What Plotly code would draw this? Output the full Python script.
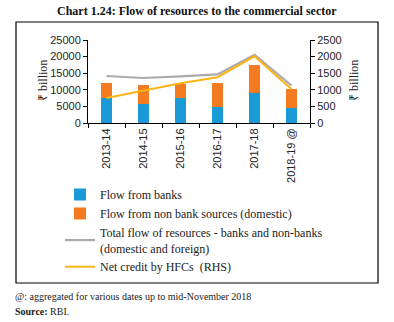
import plotly.graph_objects as go

categories = ["2013-14", "2014-15", "2015-16", "2016-17", "2017-18", "2018-19 @"]
flow_banks = [7600, 5750, 7600, 4900, 9100, 4550]
flow_nonbank = [4400, 5650, 4200, 7100, 8300, 5650]
total_flow = [14150, 13550, 14050, 14650, 20550, 11250]
hfc_credit = [750, 980, 1200, 1380, 2010, 1020]

L, R, T, B = 88, 84, 40, 199
W, H = 394, 322
pw = W - L - R
ph = H - T - B


def px(x):
    return (x - L) / pw


def py(y):
    return (H - B - y) / ph


serif = "Liberation Serif"
sans = "Liberation Sans"

fig = go.Figure()
fig.add_trace(go.Bar(x=categories, y=flow_banks, name="Flow from banks",
                     marker=dict(color="#1a9ad6", line=dict(width=0)), width=0.32))
fig.add_trace(go.Bar(x=categories, y=flow_nonbank, name="Flow from non bank sources (domestic)",
                     marker=dict(color="#f47b22", line=dict(width=0)), width=0.32))
fig.add_trace(go.Scatter(x=categories, y=total_flow, mode="lines",
                         name="Total flow of resources - banks and non-banks<br>(domestic and foreign)",
                         line=dict(color="#ababab", width=2.2)))
fig.add_trace(go.Scatter(x=categories, y=hfc_credit, mode="lines", yaxis="y2",
                         name="Net credit by HFCs  (RHS)",
                         line=dict(color="#fdb515", width=2)))

axis_common = dict(showgrid=False, zeroline=False, showline=True, linecolor="black", linewidth=1,
                   ticks="outside", ticklen=4, tickcolor="black",
                   tickfont=dict(family=sans, size=11, color="#222"))

fig.update_layout(
    width=W, height=H,
    margin=dict(l=L, r=R, t=T, b=B),
    paper_bgcolor="white", plot_bgcolor="white",
    barmode="stack",
    xaxis=dict(**axis_common, tickangle=-90, tickson="boundaries"),
    yaxis=dict(**axis_common, range=[0, 25000], dtick=5000, tickformat="d"),
    yaxis2=dict(**axis_common, range=[0, 2500], dtick=500, tickformat="d",
                overlaying="y", side="right"),
    showlegend=True,
    legend=dict(x=px(60), y=py(180), xanchor="left", yanchor="top",
                traceorder="normal", bgcolor="rgba(0,0,0,0)",
                font=dict(family=serif, size=12, color="#222"), tracegroupgap=4),
    shapes=[dict(type="rect", xref="paper", yref="paper",
                 x0=px(16), x1=px(378), y0=py(283), y1=py(22),
                 line=dict(color="black", width=1.2), fillcolor="rgba(0,0,0,0)")],
    annotations=[
        dict(text="<b>Chart 1.24: Flow of resources to the commercial sector</b>",
             xref="paper", yref="paper", x=px(197), y=py(11), xanchor="center", yanchor="middle",
             showarrow=False, font=dict(family=serif, size=12, color="#111")),
        dict(text="₹ billion", xref="paper", yref="paper", x=px(43), y=py(81),
             xanchor="center", yanchor="middle", textangle=-90, showarrow=False,
             font=dict(family=serif, size=12, color="#222")),
        dict(text="₹ billion", xref="paper", yref="paper", x=px(354), y=py(81),
             xanchor="center", yanchor="middle", textangle=-90, showarrow=False,
             font=dict(family=serif, size=12, color="#222")),
        dict(text="@: aggregated for various dates up to mid-November 2018",
             xref="paper", yref="paper", x=px(13), y=py(296), xanchor="left", yanchor="middle",
             showarrow=False, font=dict(family=serif, size=10, color="#222")),
        dict(text="<b>Source:</b> RBI.",
             xref="paper", yref="paper", x=px(13), y=py(311), xanchor="left", yanchor="middle",
             showarrow=False, font=dict(family=serif, size=10, color="#222")),
    ],
)

fig.write_html("out.html")
